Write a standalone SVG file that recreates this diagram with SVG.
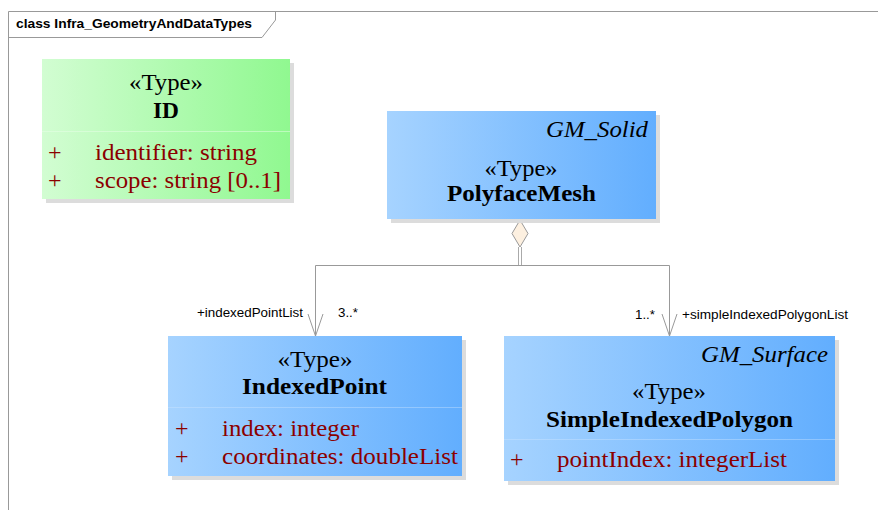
<svg xmlns="http://www.w3.org/2000/svg" width="878" height="510" viewBox="0 0 878 510">
<defs>
<linearGradient id="gGreen" x1="0" y1="0" x2="1" y2="0">
<stop offset="0" stop-color="#d2fdd2"/>
<stop offset="1" stop-color="#90f890"/>
</linearGradient>
<linearGradient id="gBlue" x1="0" y1="0" x2="1" y2="0">
<stop offset="0" stop-color="#a6d3ff"/>
<stop offset="1" stop-color="#62aefe"/>
</linearGradient>
<style>
.frame{fill:none;stroke:#999;stroke-width:1}
.shadow{fill:#dcdcdc}
.div{stroke:#cfe6ff;stroke-width:1;opacity:0.4}
.divg{stroke:#e8ffe8;stroke-width:1;opacity:0.5}
.st{font-family:"Liberation Serif","Times New Roman",serif;font-size:24px;fill:#000;text-anchor:middle}
.nm{font-family:"Liberation Serif","Times New Roman",serif;font-size:24px;font-weight:bold;fill:#000;text-anchor:middle}
.it{font-family:"Liberation Serif","Times New Roman",serif;font-size:24px;font-style:italic;fill:#000}
.at{font-family:"Liberation Serif","Times New Roman",serif;font-size:24px;fill:#8b0000}
.lb{font-family:"Liberation Sans",Arial,sans-serif;font-size:12px;fill:#000}
.ttl{font-family:"Liberation Sans",Arial,sans-serif;font-size:13px;font-weight:bold;fill:#000}
.cn{fill:none;stroke:#999;stroke-width:1}
.cl{fill:none;stroke:#aaa;stroke-width:1}
</style>
</defs>
<rect width="878" height="510" fill="#fff"/>
<g id="frame">
<path class="frame" d="M8.5,510 L8.5,11.5 L878,11.5"/>
<path class="frame" d="M8.5,37.5 L262,37.5 L275.5,20 L275.5,11.5"/>
<text class="ttl" x="16" y="28" textLength="236" lengthAdjust="spacingAndGlyphs">class Infra_GeometryAndDataTypes</text>
</g>
<g id="connectors">
<line class="cl" x1="518.5" y1="247" x2="518.5" y2="265"/>
<line class="cl" x1="521.5" y1="247" x2="521.5" y2="265"/>
<path class="cn" d="M315.5,336 L315.5,265.5 L669.5,265.5 L669.5,336"/>
<path class="cn" d="M308,314 L315.5,336 L323,314"/>
<path class="cn" d="M662,314 L669.5,336 L677,314"/>
<path d="M520,220 L528,233.5 L520,247 L512,233.5 Z" fill="#fdf0e0" stroke="#999" stroke-width="1"/>
<text class="lb" x="197" y="317" textLength="106" lengthAdjust="spacingAndGlyphs">+indexedPointList</text>
<text class="lb" x="338" y="317" textLength="20" lengthAdjust="spacingAndGlyphs">3..*</text>
<text class="lb" x="635" y="319" textLength="20" lengthAdjust="spacingAndGlyphs">1..*</text>
<text class="lb" x="682" y="319" textLength="166" lengthAdjust="spacingAndGlyphs">+simpleIndexedPolygonList</text>
</g>
<g id="ID">
<rect class="shadow" x="46" y="63" width="248" height="140"/>
<rect x="42" y="59" width="248" height="140" fill="url(#gGreen)"/>
<line class="divg" x1="42" y1="131.5" x2="290" y2="131.5"/>
<text class="st" x="166" y="90" textLength="74" lengthAdjust="spacingAndGlyphs">«Type»</text>
<text class="nm" x="166" y="118" textLength="26" lengthAdjust="spacingAndGlyphs">ID</text>
<text class="at" x="48" y="160">+</text>
<text class="at" x="95" y="160" textLength="162" lengthAdjust="spacingAndGlyphs">identifier: string</text>
<text class="at" x="48" y="188">+</text>
<text class="at" x="95" y="188" textLength="186" lengthAdjust="spacingAndGlyphs">scope: string [0..1]</text>
</g>
<g id="PolyfaceMesh">
<rect class="shadow" x="391" y="115" width="269" height="108"/>
<rect x="387" y="111" width="269" height="108" fill="url(#gBlue)"/>
<text class="it" x="546" y="137" textLength="102" lengthAdjust="spacingAndGlyphs">GM_Solid</text>
<text class="st" x="521" y="176" textLength="73" lengthAdjust="spacingAndGlyphs">«Type»</text>
<text class="nm" x="521.5" y="201" textLength="149" lengthAdjust="spacingAndGlyphs">PolyfaceMesh</text>
</g>
<g id="IndexedPoint">
<rect class="shadow" x="172" y="340" width="294" height="140"/>
<rect x="168" y="336" width="294" height="140" fill="url(#gBlue)"/>
<line class="div" x1="168" y1="407.5" x2="462" y2="407.5"/>
<text class="st" x="315" y="367" textLength="75" lengthAdjust="spacingAndGlyphs">«Type»</text>
<text class="nm" x="314.5" y="394" textLength="145" lengthAdjust="spacingAndGlyphs">IndexedPoint</text>
<text class="at" x="175" y="436">+</text>
<text class="at" x="222" y="436" textLength="137" lengthAdjust="spacingAndGlyphs">index: integer</text>
<text class="at" x="175" y="464">+</text>
<text class="at" x="222" y="464" textLength="236" lengthAdjust="spacingAndGlyphs">coordinates: doubleList</text>
</g>
<g id="SimpleIndexedPolygon">
<rect class="shadow" x="508" y="340" width="331" height="145"/>
<rect x="504" y="336" width="331" height="145" fill="url(#gBlue)"/>
<line class="div" x1="504" y1="439.5" x2="835" y2="439.5"/>
<text class="it" x="701" y="362" textLength="127" lengthAdjust="spacingAndGlyphs">GM_Surface</text>
<text class="st" x="669" y="399" textLength="74" lengthAdjust="spacingAndGlyphs">«Type»</text>
<text class="nm" x="669.5" y="427" textLength="247" lengthAdjust="spacingAndGlyphs">SimpleIndexedPolygon</text>
<text class="at" x="510" y="467">+</text>
<text class="at" x="557" y="467" textLength="230" lengthAdjust="spacingAndGlyphs">pointIndex: integerList</text>
</g>
</svg>
